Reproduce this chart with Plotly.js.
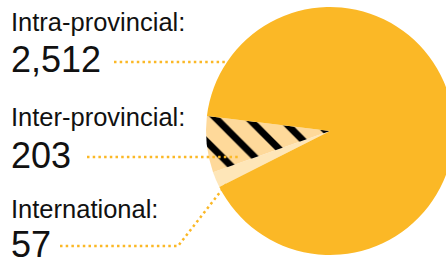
<!DOCTYPE html>
<html>
<head>
<meta charset="utf-8">
<script src="https://cdn.plot.ly/plotly-3.0.1.min.js"></script>
<style>
html,body{margin:0;padding:0;overflow:hidden;background:#fff;}
#chart{width:460px;height:261px;}
</style>
</head>
<body>
<div id="chart"></div>
<script>
// Data
const categories = ['Intra-provincial', 'Inter-provincial', 'International'];
const values = [2512, 203, 57];

// Styles
const sliceColors = {'Intra-provincial': '#FBB826', 'Inter-provincial': '#FED99A', 'International': '#FEE6B8'};
const W = 460, H = 261;
const px = x => x / W;
const py = y => 1 - y / H;

// draw order clockwise: International, Inter, Intra
const order = [2, 1, 0];
const pieLabels = order.map(i => categories[i]);
const pieValues = order.map(i => values[i]);

const trace = {
  type: 'pie',
  labels: pieLabels,
  values: pieValues,
  sort: false,
  direction: 'clockwise',
  rotation: -116.8,
  textinfo: 'none',
  hoverinfo: 'label+value',
  domain: {x: [px(206), px(454)], y: [py(255), py(7)]},
  marker: {
    colors: pieLabels.map(l => sliceColors[l]),
    line: {width: 0},
    pattern: {
      shape: pieLabels.map(l => l === 'Inter-provincial' ? '\\' : ''),
      fgcolor: '#000000',
      fgopacity: 1,
      bgcolor: pieLabels.map(l => sliceColors[l]),
      size: 23,
      solidity: 0.3,
      fillmode: 'overlay'
    }
  }
};

const fmt = v => v.toLocaleString('en-US');
const labelY = [22, 117, 209];
const valueY = [60, 155, 244];
const annotations = [];
categories.forEach((c, i) => {
  annotations.push({
    xref: 'paper', yref: 'paper', x: px(9), y: py(labelY[i]),
    xanchor: 'left', yanchor: 'middle', showarrow: false,
    text: c + ':', font: {family: 'Liberation Sans, Arial, sans-serif', size: 25.5, color: '#111'}
  });
  annotations.push({
    xref: 'paper', yref: 'paper', x: px(9), y: py(valueY[i]),
    xanchor: 'left', yanchor: 'middle', showarrow: false,
    text: fmt(values[i]), font: {family: 'Liberation Sans, Arial, sans-serif', size: 36, color: '#111'}
  });
});

const dotLine = {color: '#FBB826', width: 2.5, dash: '2.5px,3.2px'};
const shapes = [
  {type: 'line', xref: 'paper', yref: 'paper', x0: px(114), y0: py(62), x1: px(227), y1: py(62), line: dotLine},
  {type: 'line', xref: 'paper', yref: 'paper', x0: px(87), y0: py(157), x1: px(240), y1: py(157), line: dotLine},
  {type: 'path', xref: 'paper', yref: 'paper',
   path: 'M ' + px(60) + ' ' + py(246) + ' L ' + px(178) + ' ' + py(246) + ' L ' + px(228) + ' ' + py(182),
   line: dotLine}
];

const layout = {
  width: W, height: H,
  margin: {l: 0, r: 0, t: 0, b: 0},
  paper_bgcolor: '#ffffff',
  showlegend: false,
  annotations: annotations,
  shapes: shapes
};

Plotly.newPlot('chart', [trace], layout, {displayModeBar: false, staticPlot: true});
</script>
</body>
</html>
